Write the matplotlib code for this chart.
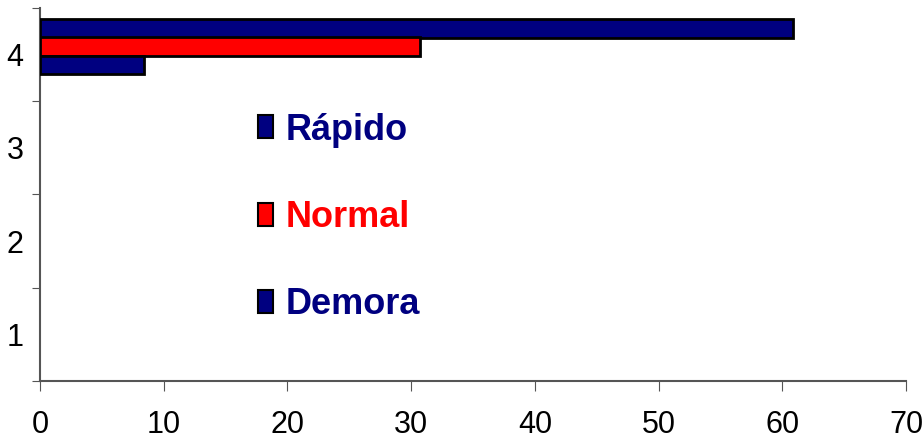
import numpy as np
import matplotlib.pyplot as plt
from matplotlib.patches import Patch

categories = [1, 2, 3, 4]
series = ['Rápido', 'Normal', 'Demora']
values = {
    'Rápido': [0, 0, 0, 60.9],
    'Normal': [0, 0, 0, 30.7],
    'Demora': [0, 0, 0, 8.4],
}
colors = {'Rápido': '#000080', 'Normal': '#ff0000', 'Demora': '#000080'}
offsets = {'Rápido': 0.28, 'Normal': 0.087, 'Demora': -0.11}

font = ['Liberation Sans Narrow', 'Liberation Sans', 'DejaVu Sans']
plt.rcParams['font.family'] = font

fig = plt.figure(figsize=(9.22, 4.41), dpi=100)
ax = fig.add_axes([0.0434, 0.136, 0.9392, 0.846])

y = np.array(categories, dtype=float)
for s in series:
    v = np.array(values[s])
    mask = v > 0
    ax.barh(y[mask] + offsets[s], v[mask], height=0.2, color=colors[s],
            edgecolor='black', linewidth=2, zorder=3)

ax.set_xlim(0, 70)
ax.set_ylim(0.5, 4.5)
ax.set_xticks(np.arange(0, 71, 10))
ax.set_yticks(np.arange(0.5, 4.6, 1))
ax.set_yticklabels([])
ax.set_yticks(categories, minor=True)
ax.set_yticklabels([str(c) for c in categories], minor=True)
ax.tick_params(axis='y', which='minor', length=0, labelsize=22, pad=12)
ax.tick_params(axis='y', which='major', length=6, color='#555555')
ax.tick_params(axis='x', length=7, labelsize=22, color='#555555', pad=14)
for lab in ax.get_yticklabels(minor=True):
    lab.set_verticalalignment('center_baseline')

for sp in ['top', 'right']:
    ax.spines[sp].set_visible(False)
for sp in ['left', 'bottom']:
    ax.spines[sp].set_color('#555555')
    ax.spines[sp].set_linewidth(1.5)

handles = [Patch(facecolor=colors[s], edgecolor='black', linewidth=1.5) for s in series]
leg = ax.legend(handles, series, loc='upper left', bbox_to_anchor=(0.231, 0.768),
                frameon=False, borderpad=0, handlelength=0.4, handleheight=0.6,
                handletextpad=0.35, labelspacing=1.45,
                prop={'size': 26, 'weight': 'bold', 'family': font},
                labelcolor=[colors[s] for s in series])

fig.savefig('out.png', dpi=100)
